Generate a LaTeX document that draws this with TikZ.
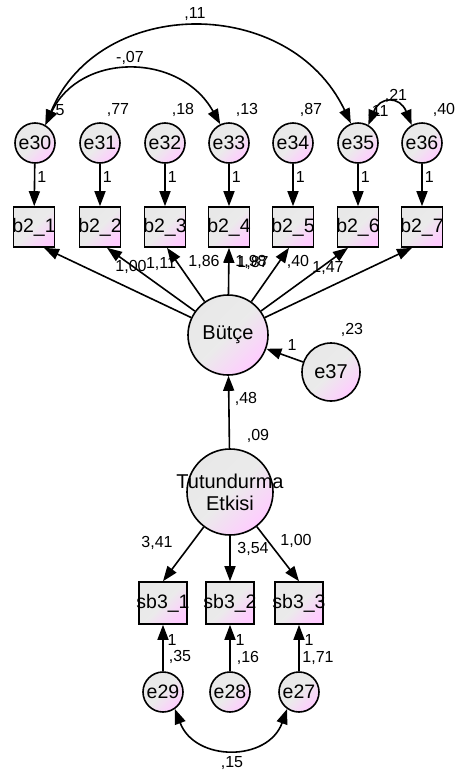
\documentclass[tikz,border=0pt]{standalone}
\usepackage{fontspec}
\setmainfont{Liberation Sans}
\usetikzlibrary{arrows.meta,shapes.geometric}
\tikzset{
  fillshade/.style={shade, top color=black!9, bottom color=magenta!20, middle color=black!8, shading angle=45},
  errc/.style={circle, draw, line width=1.6pt, fillshade, minimum size=40pt, inner sep=0pt, font=\fontsize{19.5}{19}\selectfont},
  latc/.style={circle, draw, line width=1.6pt, fillshade, inner sep=0pt, font=\fontsize{20}{22}\selectfont},
  obsbox/.style={rectangle, draw, line width=1.6pt, fillshade, minimum width=41pt, minimum height=40pt, inner sep=0pt},
  boxtxt/.style={font=\fontsize{19.5}{20}\selectfont},
  arr/.style={line width=1.6pt, -{Triangle[length=15pt,width=11pt]}},
  darr/.style={line width=1.6pt, {Triangle[length=15pt,width=11pt]}-{Triangle[length=15pt,width=11pt]}},
  lab/.style={font=\fontsize{16}{16}\selectfont, inner sep=0pt},
}
\begin{document}
\begin{tikzpicture}[x=1pt,y=-1pt]
\useasboundingbox (0,0) rectangle (455,774);
% error circles top
\foreach \n/\x in {30/35,31/100,32/165,33/229,34/293,35/358,36/422}{
  \node[errc] (e\n) at (\x,143) {e\n};
}
% boxes
\foreach \i/\x in {1/34,2/100,3/165,4/229,5/293,6/358,7/422}{
  \node[obsbox, label={[boxtxt]center:b2\_\i}] (b\i) at (\x,227) {};
}
% e -> b
\foreach \n/\i in {30/1,31/2,32/3,33/4,34/5,35/6,36/7}{
  \draw[arr] (e\n) -- (b\i) node[lab, pos=0.3, right=2pt] {1};
}
% latent
\node[latc, minimum size=80pt] (but) at (228,335) {Bütçe};
\node[errc, minimum size=58pt, font=\fontsize{20}{20}\selectfont] (e37) at (331,372) {e37};
\node[latc, minimum size=86pt, label={[align=center, font=\fontsize{20}{22}\selectfont]center:Tutundurma\\Etkisi}] (tut) at (230,492) {};
% Butce -> b
\draw[arr] (but) -- ([xshift=10pt]b1.south);
\draw[arr] (but) -- ([xshift=7pt]b2.south);
\draw[arr] (but) -- ([xshift=2pt]b3.south);
\draw[arr] (but) -- (b4.south);
\draw[arr] (but) -- ([xshift=-4pt]b5.south);
\draw[arr] (but) -- ([xshift=-10pt]b6.south);
\draw[arr] (but) -- ([xshift=-10pt]b7.south);
\draw[arr] (e37) -- (but) node[lab, pos=0.3, above=7pt] {1};
\draw[arr] (tut) -- (but);
% sb3 boxes
\foreach \i/\x in {1/163,2/230,3/299}{
  \node[obsbox, minimum width=48pt, minimum height=42pt, label={[boxtxt]center:sb3\_\i}] (s\i) at (\x,603) {};
}
\foreach \n/\x in {29/163,28/230,27/299}{
  \node[errc] (e\n) at (\x,692) {e\n};
}
\draw[arr] (tut) -- (s1.north);
\draw[arr] (tut) -- (s2.north);
\draw[arr] (tut) -- (s3.north);
\draw[arr] (e29) -- (s1);
\draw[arr] (e28) -- (s2);
\draw[arr] (e27) -- (s3);
% covariances
\draw[darr] (e30.60) .. controls (100,-5) and (290,-5) .. (e35.110);
\draw[darr] (e30.60) .. controls (80,52) and (180,52) .. (e33.115);
\draw[darr] (e35.60) .. controls (380,96) and (400,96) .. (e36.120);
\draw[darr] (e29.-55) .. controls (195,762) and (268,762) .. (e27.-125);
% labels
\node[lab] (l11) at (195,14) {,11};
\node[lab] (l07) at (130,58) {-,07};
\node[lab] (v30) at (60,110) {5};
\node[lab] (v31) at (118,110) {,77};
\node[lab] (v32) at (183,110) {,18};
\node[lab] (v33) at (247,110) {,13};
\node[lab] (v34) at (311,110) {,87};
\node[lab] (v35) at (378,112) {,11};
\node[lab] (v36) at (444,110) {,40};
\node[lab] (l21) at (396,96) {,21};
\node[lab] (w1) at (131,267) {1,00};
\node[lab] (w2) at (161,264) {1,11};
\node[lab] (w3) at (204,262) {1,86};
\node[lab] (w4a) at (251,262) {1,98};
\node[lab] (w4b) at (253,263) {1,87};
\node[lab] (w5) at (298,262) {,40};
\node[lab] (w6) at (328,268) {1,47};
\node[lab] (v37) at (352,330) {,23};
\node[lab] (l48) at (246,399) {,48};
\node[lab] (l09) at (258,436) {,09};
\node[lab] (ls1) at (157,543) {3,41};
\node[lab] (ls2) at (253,549) {3,54};
\node[lab] (ls3) at (296,541) {1,00};
\node[lab] (o1) at (172,640) {1};
\node[lab] (o2) at (240,640) {1};
\node[lab] (o3) at (309,640) {1};
\node[lab] (v29) at (180,657) {,35};
\node[lab] (v28) at (248,658) {,16};
\node[lab] (v27) at (318,658) {1,71};
\node[lab] (l15) at (232,763) {,15};
\end{tikzpicture}
\end{document}
